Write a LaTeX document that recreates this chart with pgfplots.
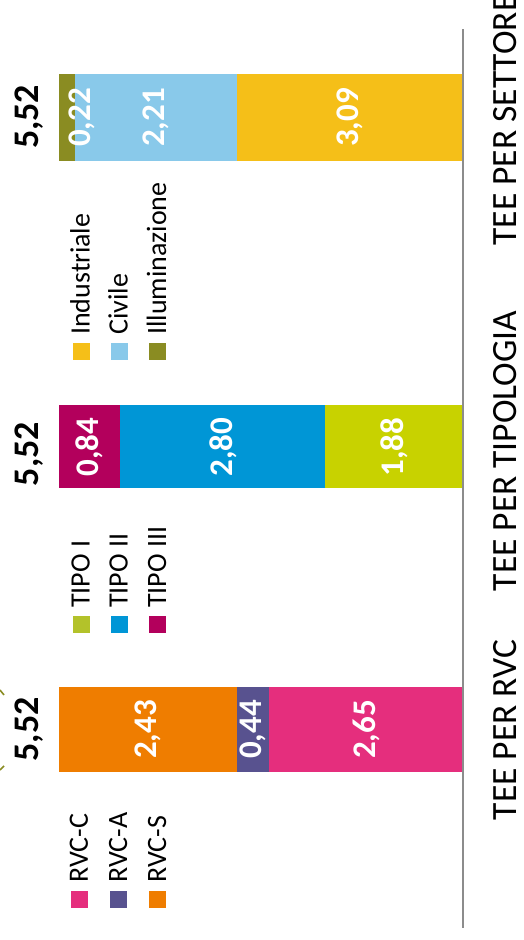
\documentclass[border=0pt]{standalone}
\usepackage{fontspec}
\setmainfont{Carlito}
\usepackage{pgfplots}
\pgfplotsset{compat=1.18}
\definecolor{rvcc}{HTML}{E52E7D}
\definecolor{rvca}{HTML}{58528F}
\definecolor{rvcs}{HTML}{EF7D00}
\definecolor{tipoI}{HTML}{C8D200}
\definecolor{tipoIlg}{HTML}{B3C22A}
\definecolor{tipoII}{HTML}{0096D6}
\definecolor{tipoIII}{HTML}{B3005C}
\definecolor{ind}{HTML}{F5BF18}
\definecolor{civ}{HTML}{89C9EA}
\definecolor{ill}{HTML}{8A8C22}
\definecolor{axgray}{HTML}{8C8C8C}
\pgfplotsset{base/.style={scale only axis, width=523pt, height=940pt,
  xmin=-0.8197, xmax=6.3251, x dir=reverse, ymin=0, ymax=940,
  hide axis, clip=false, xbar stacked}}
\tikzset{
  val/.style={rotate=90, text=white, font=\fontsize{33}{38}\selectfont\bfseries, anchor=center, inner sep=0pt},
  tot/.style={rotate=90, text=black, font=\fontsize{36}{40}\selectfont\bfseries, anchor=center, inner sep=0pt},
  cat/.style={rotate=90, text=black, font=\fontsize{35.5}{40}\selectfont, anchor=center, inner sep=0pt},
  leg/.style={rotate=90, text=black, font=\fontsize{28}{32}\selectfont, anchor=base west, inner sep=0pt}}
\newcommand{\sq}[1]{\textcolor{#1}{\rule{17pt}{17pt}}\hspace{8pt}}
\begin{document}
\begin{tikzpicture}
% Bar 1: TEE PER RVC
\begin{axis}[base, bar width=85pt]
\addplot[fill=rvcc, draw=none] coordinates {(2.65,210.5)};
\addplot[fill=rvca, draw=none] coordinates {(0.44,210.5)};
\addplot[fill=rvcs, draw=none] coordinates {(2.43,210.5)};
\node[tot] at (axis cs:5.922,210.5) {5,52};
\node[cat] at (axis cs:-0.574,210) {TEE PER RVC};
\node[leg] at (axis cs:5.123,32) {\sq{rvcc}RVC-C};
\node[leg] at (axis cs:4.590,32) {\sq{rvca}RVC-A};
\node[leg] at (axis cs:4.057,32) {\sq{rvcs}RVC-S};
\draw[ill, line width=1.6pt] (axis cs:6.325,250) -- (axis cs:6.27,245);
\draw[ill, line width=1.6pt] (axis cs:6.325,170) -- (axis cs:6.27,174);
\end{axis}
% Bar 2: TEE PER TIPOLOGIA
\begin{axis}[base, bar width=83pt]
\addplot[fill=tipoI, draw=none] coordinates {(1.88,493)};
\addplot[fill=tipoII, draw=none] coordinates {(2.80,493)};
\addplot[fill=tipoIII, draw=none] coordinates {(0.84,493)};
\node[tot] at (axis cs:5.922,486) {5,52};
\node[cat] at (axis cs:-0.574,489) {TEE PER TIPOLOGIA};
\node[leg] at (axis cs:5.10,307) {\sq{tipoIlg}TIPO I};
\node[leg] at (axis cs:4.58,307) {\sq{tipoII}TIPO II};
\node[leg] at (axis cs:4.057,307) {\sq{tipoIII}TIPO III};
\end{axis}
% Bar 3: TEE PER SETTORE
\begin{axis}[base, bar width=87pt]
\addplot[fill=ind, draw=none] coordinates {(3.09,822.5)};
\addplot[fill=civ, draw=none] coordinates {(2.21,822.5)};
\addplot[fill=ill, draw=none] coordinates {(0.22,822.5)};
\node[tot] at (axis cs:5.922,823) {5,52};
\node[cat] at (axis cs:-0.574,820) {TEE PER SETTORE};
\node[leg] at (axis cs:5.10,580) {\sq{ind}Industriale};
\node[leg] at (axis cs:4.58,580) {\sq{civ}Civile};
\node[leg] at (axis cs:4.057,580) {\sq{ill}Illuminazione};
\end{axis}
% Overlay: baseline and value labels on top of the bars
\begin{axis}[base]
\draw[axgray, line width=2.3pt] (axis cs:0,12) -- (axis cs:0,911);
\node[val] at (axis cs:1.325,210.5) {2,65};
\node[val] at (axis cs:2.87,210.5) {0,44};
\node[val] at (axis cs:4.305,210.5) {2,43};
\node[val] at (axis cs:0.94,493) {1,88};
\node[val] at (axis cs:3.28,493) {2,80};
\node[val] at (axis cs:5.10,493) {0,84};
\node[val] at (axis cs:1.545,822.5) {3,09};
\node[val] at (axis cs:4.195,822.5) {2,21};
\node[val] at (axis cs:5.20,822.5) {0,22};
\end{axis}
\pgfresetboundingbox
\useasboundingbox (0,0) rectangle (523pt,940pt);
\end{tikzpicture}
\end{document}
